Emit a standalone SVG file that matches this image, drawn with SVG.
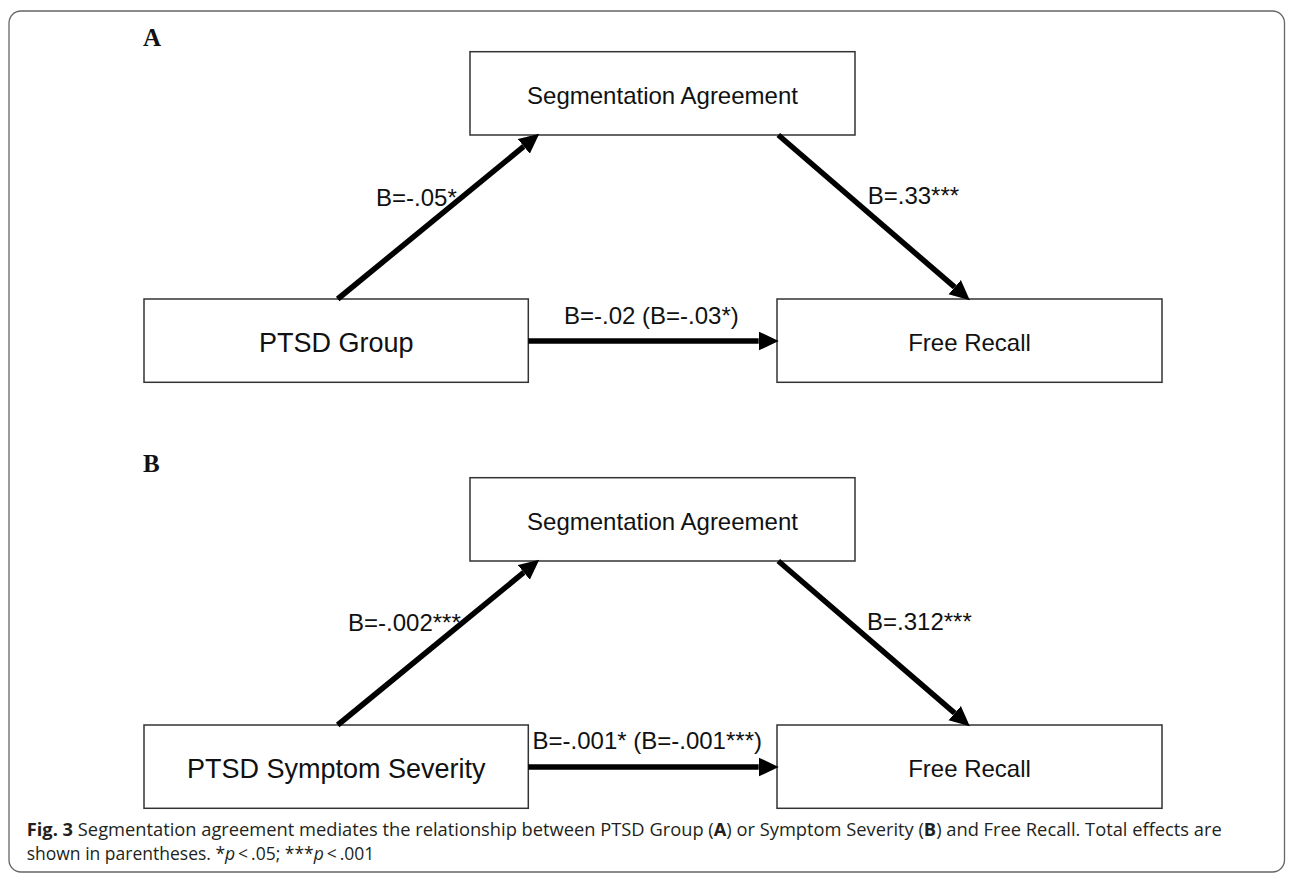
<svg xmlns="http://www.w3.org/2000/svg" width="1295" height="875" viewBox="0 0 1295 875">
  <style>
    .box { fill: #fff; stroke: #333; stroke-width: 1.5; }
    .lbl { font-family: "Liberation Sans", Arial, sans-serif; font-size: 24px; fill: #111; }
    .big { font-size: 27px; }
    .mid { text-anchor: middle; }
    .panel { font-family: "Liberation Serif", "Times New Roman", serif; font-size: 25px; font-weight: bold; fill: #111; }
    .conn { stroke: #000; stroke-width: 5.5; fill: none; marker-end: url(#ah); }
    .cap { font-family: "Open Sans", "Noto Sans", sans-serif; font-size: 18px; fill: #231f20; }
  </style>
  <defs>
    <marker id="ah" markerUnits="userSpaceOnUse" markerWidth="20" markerHeight="20" viewBox="0 -9 18 18" refX="0" refY="0" orient="auto">
      <path d="M0,-8.5 L18,0 L0,8.5 z" fill="#000"/>
    </marker>
  </defs>

  <rect x="9" y="11" width="1275.5" height="861" rx="12" ry="12" fill="#fff" stroke="#666" stroke-width="1.3"/>

  <!-- Panel A -->
  <text class="panel" x="143" y="46">A</text>
  <g id="A-seg">
    <rect class="box" x="470" y="51.7" width="385" height="83.3"/>
    <text class="lbl mid" x="662.5" y="103.5">Segmentation Agreement</text>
  </g>
  <g id="A-ptsd">
    <rect class="box" x="144" y="299" width="384.3" height="83.3"/>
    <text class="lbl big mid" x="336.2" y="351.7">PTSD Group</text>
  </g>
  <g id="A-recall">
    <rect class="box" x="777" y="299" width="385" height="83.3"/>
    <text class="lbl mid" x="969.5" y="351">Free Recall</text>
  </g>

  <!-- Panel B -->
  <text class="panel" x="143" y="472">B</text>
  <g id="B-seg">
    <rect class="box" x="470" y="477.7" width="385" height="83.3"/>
    <text class="lbl mid" x="662.5" y="529.5">Segmentation Agreement</text>
  </g>
  <g id="B-ptsd">
    <rect class="box" x="144" y="725" width="384.3" height="83.3"/>
    <text class="lbl big mid" x="336.2" y="777.7">PTSD Symptom Severity</text>
  </g>
  <g id="B-recall">
    <rect class="box" x="777" y="725" width="385" height="83.3"/>
    <text class="lbl mid" x="969.5" y="777">Free Recall</text>
  </g>

  <g id="connectors">
    <path class="conn" d="M337.7,299 L523.8,146.4"/>
    <path class="conn" d="M778.3,135 L954.7,287.2"/>
    <path class="conn" d="M528.3,341 L758.7,341"/>
    <path class="conn" d="M337.7,725 L523.8,572.4"/>
    <path class="conn" d="M778.3,561 L954.7,713.2"/>
    <path class="conn" d="M528.3,767 L758.7,767"/>
  </g>

  <g id="edge-labels">
    <text class="lbl" x="376" y="205.5">B=-.05*</text>
    <text class="lbl" x="867.7" y="204">B=.33***</text>
    <text class="lbl" x="564" y="324">B=-.02 (B=-.03*)</text>
    <text class="lbl" x="348" y="631">B=-.002***</text>
    <text class="lbl" x="867" y="630">B=.312***</text>
    <text class="lbl" x="532.5" y="749">B=-.001* (B=-.001***)</text>
  </g>

  <g id="caption" transform="translate(26.7,0) scale(0.88,1)">
    <text class="cap" x="0" y="836" textLength="1358" lengthAdjust="spacingAndGlyphs"><tspan font-weight="bold">Fig. 3</tspan>  Segmentation agreement mediates the relationship between PTSD Group (<tspan font-weight="bold">A</tspan>) or Symptom Severity (<tspan font-weight="bold">B</tspan>) and Free Recall. Total effects are</text>
    <text class="cap" x="0" y="860" textLength="395" lengthAdjust="spacingAndGlyphs">shown in parentheses. *<tspan font-style="italic">p</tspan>&#8201;&lt;&#8201;.05; ***<tspan font-style="italic">p</tspan>&#8201;&lt;&#8201;.001</text>
  </g>
</svg>
